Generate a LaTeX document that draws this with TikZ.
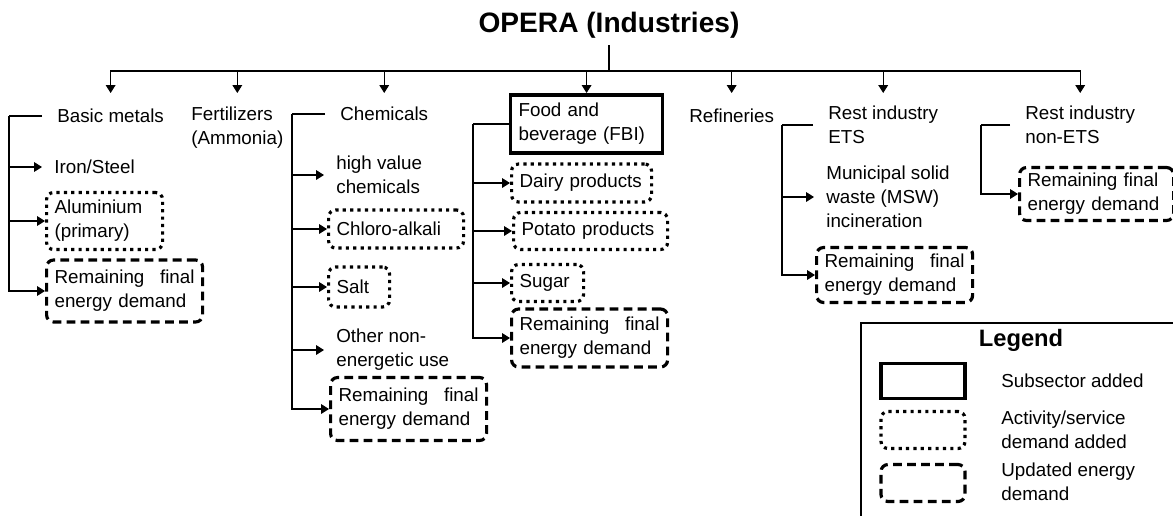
\documentclass[tikz,border=0pt]{standalone}
\usepackage{fontspec}
\setmainfont{Liberation Sans}
\usetikzlibrary{arrows.meta}
\newlength\px
\setlength\px{0.02cm}

\begin{document}
\begin{tikzpicture}[x=0.02cm,y=-0.02cm,
        every node/.style={font=\fontsize{10.7}{13.6}\selectfont, align=left, inner sep=0pt},
        head/.style={anchor=west, inner xsep=15\px},
        item/.style={anchor=west, inner xsep=12\px},
        box/.style={draw, anchor=west, line width=1.8pt, inner xsep=8\px, rounded corners=7\px},
        subbox/.style={box, rounded corners=0pt},
        dotbox/.style={box, dash pattern=on 1.8pt off 2.4pt},
        dashbox/.style={box, dash pattern=on 5pt off 3pt},
        arr/.style={line width=0.6pt, -{Triangle[length=4.5pt,width=5.5pt]}}, scale=1]
        \useasboundingbox (0,0) rectangle (1173,515);
        \clip (0,0) rectangle (1173,515);
        \node[font=\fontsize{16}{18}\selectfont\bfseries, inner ysep=4pt] (title) at (609,25) {OPERA (Industries)};
        \coordinate (top) at (609,71);
        \coordinate (tipline) at (0,93);
        \node[head] (bm) at (42,116) {Basic metals};
        \node[head] (fert) at (176,128) {Fertilizers\\(Ammonia)};
        \node[head] (chem) at (325,114) {Chemicals};
        \node[subbox, text width=136\px, minimum height=58\px] (fbi) at (509,124) {Food and\\beverage (FBI)};
        \node[head] (refi) at (674,116) {Refineries};
        \node[head] (ets) at (813,125) {Rest industry\\ETS};
        \node[head] (non) at (1010,125) {Rest industry\\non-ETS};
        \draw[line width=0.6pt] (title) -- (top);
        \foreach \k in {bm,fert,chem,fbi,refi,ets,non}
        { \draw[arr] (top) -| (\k |- tipline);
        }
        \node[item] (iron) at (42,167) {Iron/Steel};
        \node[dotbox, text width=100\px, minimum height=57\px] (alu) at (45,221) {Aluminium\\(primary)};
        \node[dashbox, text width=140\px, minimum height=62\px] (rembm) at (45,291) {Remaining\hfill final\\energy demand};
        \node[item] (hvc) at (324,175) {high value\\chemicals};
        \node[dotbox, text width=119\px, minimum height=38\px] (chlor) at (327,229) {Chloro-alkali};
        \node[dotbox, text width=45\px, minimum height=40\px] (salt) at (327,287) {Salt};
        \node[item] (other) at (324,350) {Other non-\\energetic use};
        \node[dashbox, text width=140\px, minimum height=63\px] (remch) at (329,409) {Remaining\hfill final\\energy demand};
        \node[dotbox, text width=124\px, minimum height=38\px] (dairy) at (510,183) {Dairy products};
        \node[dotbox, text width=138\px, minimum height=37\px] (potato) at (512,231) {Potato products};
        \node[dotbox, text width=56\px, minimum height=37\px] (sugar) at (510,283) {Sugar};
        \node[dashbox, text width=140\px, minimum height=58\px] (remfbi) at (510,338) {Remaining\hfill final\\energy demand};
        \node[item] (msw) at (814,197) {Municipal solid\\waste (MSW)\\incineration};
        \node[dashbox, text width=140\px, minimum height=55\px] (remets) at (815,275) {Remaining\hfill final\\energy demand};
        \node[dashbox, text width=138\px, minimum height=53\px] (remnon) at (1018,194) {Remaining final\\energy demand};
        \coordinate (bmsp) at (9,116);
        \coordinate (chemsp) at (292,114);
        \coordinate (fbisp) at (473,124);
        \coordinate (etssp) at (782,125);
        \coordinate (nonsp) at (981,125);
        \draw[line width=0.6pt] (bm.west) -- (bmsp);
        \draw[line width=0.6pt] (chem.west) -- (chemsp);
        \draw[line width=0.6pt] (fbi.west) -- (fbisp);
        \draw[line width=0.6pt] (ets.west) -- (etssp);
        \draw[line width=0.6pt] (non.west) -- (nonsp);
        \foreach \k in {iron,alu,rembm}
        { \draw[arr] (bmsp) |- (\k.west);
        }
        \foreach \k in {hvc,chlor,salt,other,remch}
        { \draw[arr] (chemsp) |- (\k.west);
        }
        \foreach \k in {dairy,potato,sugar,remfbi}
        { \draw[arr] (fbisp) |- (\k.west);
        }
        \foreach \k in {msw,remets}
        { \draw[arr] (etssp) |- (\k.west);
        }
        \draw[arr] (nonsp) |- (remnon.west);
        \draw[line width=1.3pt] (861,323) rectangle (1200,540);
        \node[font=\fontsize{13.5}{16}\selectfont\bfseries] (legend) at (1021,340) {Legend};
        \node[subbox, anchor=center, minimum width=84\px, minimum height=35\px] (ksub) at (923,381) {};
        \node[dotbox, anchor=center, minimum width=84\px, minimum height=37\px] (kdot) at (923,430) {};
        \node[dashbox, anchor=center, minimum width=84\px, minimum height=37\px] (kdash) at (923,483) {};
        \node[anchor=west] (tsub) at (1001,381) {Subsector added};
        \node[anchor=west] (tdot) at (1001,430) {Activity/service\\demand added};
        \node[anchor=west] (tdash) at (1001,482) {Updated energy\\demand};
        \end{tikzpicture}
\end{document}
